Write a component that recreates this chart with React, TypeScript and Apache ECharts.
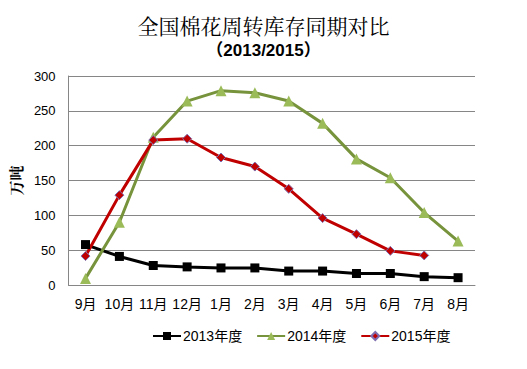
import React, { useEffect, useRef } from "react";
import * as echarts from "echarts";

const months = ["9月", "10月", "11月", "12月", "1月", "2月", "3月", "4月", "5月", "6月", "7月", "8月"];
const y2013 = [58, 41, 28, 26, 24.5, 24.5, 20, 20, 16.5, 16.5, 12, 10.5];
const y2014 = [9.5, 90, 212, 264, 279, 276, 264, 232, 181, 154, 104, 63];
const y2015 = [41.5, 129, 208, 210, 183, 170, 138, 96, 73, 49, 42.5];
const seriesNames = ["2013年度", "2014年度", "2015年度"];

export default function App() {
  const ref = useRef<HTMLDivElement>(null);
  useEffect(() => {
    const chart = echarts.init(ref.current!, null, { renderer: "svg" });
    const font = "'Liberation Sans', 'Noto Sans CJK SC', sans-serif";
    chart.setOption({
      animation: false,
      backgroundColor: "#fff",
      title: [
        {
          text: "全国棉花周转库存同期对比",
          left: "center",
          top: 9,
          textStyle: { fontFamily: "'Noto Serif CJK SC', 'Noto Sans CJK SC', serif", fontSize: 21, fontWeight: "normal", color: "#000" },
        },
        {
          text: "（2013/2015）",
          left: "center",
          top: 37,
          textStyle: { fontFamily: "'Liberation Sans', 'Noto Sans CJK SC', sans-serif", fontSize: 17, fontWeight: "bold", color: "#000" },
        },
      ],
      grid: { left: 68, right: 52, top: 76, bottom: 84 },
      legend: {
        data: seriesNames,
        bottom: 21,
        left: 147,
        itemWidth: 28,
        itemHeight: 10,
        itemGap: 14,
        textStyle: { fontFamily: font, fontSize: 14, color: "#000", padding: [0, 0, 0, -3] },
      },
      xAxis: {
        type: "category",
        data: months,
        boundaryGap: true,
        axisLine: { lineStyle: { color: "#868686", width: 1 } },
        axisTick: { show: false },
        axisLabel: { color: "#000", fontSize: 14, fontFamily: font, margin: 12, interval: 0 },
      },
      yAxis: {
        type: "value",
        min: 0,
        max: 300,
        interval: 50,
        name: "万吨",
        nameLocation: "middle",
        nameGap: 44,
        nameRotate: 90,
        nameTextStyle: { fontFamily: "'Noto Serif CJK SC', 'Noto Sans CJK SC', serif", fontSize: 15, fontWeight: "bold", color: "#000" },
        axisLine: { show: true, lineStyle: { color: "#868686", width: 1 } },
        axisTick: { show: false },
        axisLabel: { color: "#000", fontSize: 13, fontFamily: font, margin: 13 },
        splitLine: { lineStyle: { color: "#868686", width: 1 } },
      },
      series: [
        {
          name: seriesNames[0],
          type: "line",
          data: y2013,
          symbol: "rect",
          symbolSize: 9,
          lineStyle: { color: "#000", width: 3 },
          itemStyle: { color: "#000" },
        },
        {
          name: seriesNames[1],
          type: "line",
          data: y2014,
          symbol: "triangle",
          symbolSize: 11,
          lineStyle: { color: "#77933C", width: 3 },
          itemStyle: { color: "#9BBB59" },
        },
        {
          name: seriesNames[2],
          type: "line",
          data: y2015,
          symbol: "diamond",
          symbolSize: 9,
          lineStyle: { color: "#C00000", width: 3 },
          itemStyle: { color: "#C00000", borderColor: "#7F6FB0", borderWidth: 1 },
        },
      ],
    });
    return () => chart.dispose();
  }, []);
  return <div ref={ref} style={{ width: 527, height: 369, margin: -8 }} />;
}
